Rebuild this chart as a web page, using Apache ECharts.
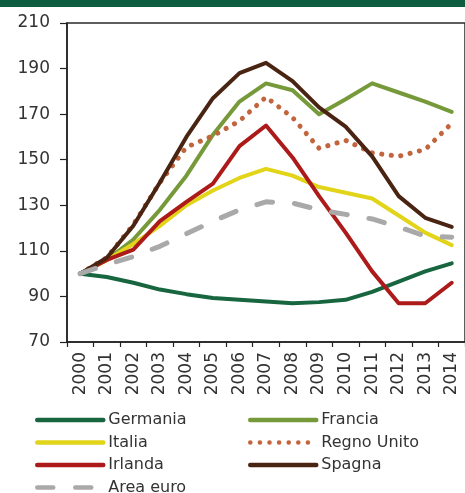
<!DOCTYPE html>
<html>
<head>
<meta charset="utf-8">
<script src="https://cdn.jsdelivr.net/npm/echarts@6/dist/echarts.min.js"></script>
<style>
html,body{margin:0;padding:0;background:#fff;}
#c{width:465px;height:493px;}
</style>
</head>
<body>
<div id="c"></div>
<script>
var years = ['2000','2001','2002','2003','2004','2005','2006','2007','2008','2009','2010','2011','2012','2013','2014'];
var yTicks = [70, 90, 110, 130, 150, 170, 190, 210];
var germania   = [100, 98.5, 96, 93, 91, 89.3, 88.5, 87.8, 87, 87.5, 88.5, 92, 96.5, 101, 104.5];
var francia    = [100, 106, 115, 128, 143, 161, 175.5, 183.5, 180.5, 170, 176.5, 183.5, 179.5, 175.5, 171];
var italia     = [100, 106, 113, 121, 130, 136.5, 142, 146, 143, 138, 135.5, 133, 125.5, 118, 112.5];
var regnoUnito = [100, 107, 121.5, 140, 155.5, 160.5, 167, 177.5, 168.5, 155, 158.5, 153, 151.5, 154.5, 166];
var irlanda    = [100, 106, 110.5, 123, 131.5, 139.5, 156, 165, 151, 134, 118, 101, 87, 87, 96];
var spagna     = [100, 107, 121, 140, 160, 177, 188, 192.5, 184.5, 173, 164.5, 151.5, 134, 124.5, 120.5];
var areaEuro   = [100, 104, 107.5, 112, 117.5, 123, 128, 131.5, 131, 128, 126, 124, 120.5, 116.5, 116];

var FONT = 'DejaVu Sans';
var chart = echarts.init(document.getElementById('c'), null, {renderer: 'canvas'});

function line(name, data, color, extra) {
  var ls = {color: color, width: 4, cap: 'round', join: 'round'};
  if (extra) for (var k in extra) ls[k] = extra[k];
  return {
    name: name, type: 'line', data: data, symbol: 'none', smooth: false,
    itemStyle: {color: color}, lineStyle: ls, emphasis: {disabled: true}
  };
}

var legendText = {fontFamily: FONT, fontSize: 16, color: '#333', lineHeight: 18};
function legend(left, names) {
  return {
    orient: 'vertical', left: left, top: 411, height: 120, padding: 0,
    itemWidth: 66, itemHeight: 14, itemGap: 4.5,
    data: names, textStyle: legendText, selectedMode: false,
    itemStyle: {opacity: 0},
    lineStyle: {width: 4.5, cap: 'round'}
  };
}

var option = {
  animation: false,
  graphic: [{type: 'rect', shape: {x: 0, y: 0, width: 465, height: 7}, style: {fill: '#0e5d3e'}}],
  grid: {left: 67, top: 23, right: -10.3, bottom: 151, show: true, borderColor: '#2a2a2a', borderWidth: 1.5, containLabel: false},
  xAxis: {
    type: 'category', data: years, boundaryGap: true,
    axisLine: {lineStyle: {color: '#222', width: 1.5}},
    axisTick: {show: true, length: 5, lineStyle: {color: '#222', width: 1.2}},
    axisLabel: {rotate: 90, margin: 10, fontFamily: FONT, fontSize: 17, color: '#333', interval: 0},
    splitLine: {show: false}
  },
  yAxis: {
    type: 'value', min: yTicks[0], max: yTicks[yTicks.length - 1], interval: 20,
    axisLine: {show: true, lineStyle: {color: '#222', width: 1.5}},
    axisTick: {show: true, length: 7, lineStyle: {color: '#222', width: 1.2}},
    axisLabel: {margin: 17, fontFamily: FONT, fontSize: 17, color: '#333'},
    splitLine: {show: false}
  },
  legend: [
    legend(35, ['Germania', 'Italia', 'Irlanda', 'Area euro']),
    legend(248, ['Francia', 'Regno Unito', 'Spagna'])
  ],
  series: [
    line('Germania', germania, '#17663f'),
    line('Francia', francia, '#76993a'),
    line('Italia', italia, '#e2d418'),
    line('Regno Unito', regnoUnito, '#c2643c', {type: [0.1, 9.5], width: 5}),
    line('Irlanda', irlanda, '#ad1a1a'),
    line('Spagna', spagna, '#4a2412'),
    line('Area euro', areaEuro, '#a9a9a9', {type: [16, 22], width: 5})
  ]
};
chart.setOption(option);
</script>
</body>
</html>
